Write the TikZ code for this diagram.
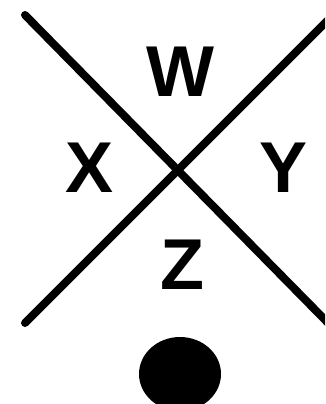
\documentclass[tikz,border=0pt]{standalone}
\usepackage{fontspec}
\setmainfont{Liberation Sans}
\usetikzlibrary{shapes.geometric}
\begin{document}
\begin{tikzpicture}[x=1pt,y=-1pt,
  bar/.style={line width=8pt,line cap=round,black},
  letter/.style={font=\fontsize{72}{72}\selectfont\bfseries,inner sep=0pt,anchor=center}]
\useasboundingbox (0,0) rectangle (325,404);
\clip (0,0) rectangle (325,404);
\coordinate (a1) at (25,15);
\coordinate (a2) at (335,330);
\coordinate (b1) at (25,323);
\coordinate (b2) at (335,13);
\draw[bar] (a1) -- (a2);
\draw[bar] (b1) -- (b2);
\node[letter] (w) at (180,72) {W};
\node[letter] (x) at (90,168) {X};
\node[letter] (y) at (284,168) {Y};
\node[letter] (z) at (182,265) {Z};
\node[fill=black,ellipse,minimum width=82pt,minimum height=74pt,inner sep=0pt] (dot) at (180,374) {};
\end{tikzpicture}
\end{document}
